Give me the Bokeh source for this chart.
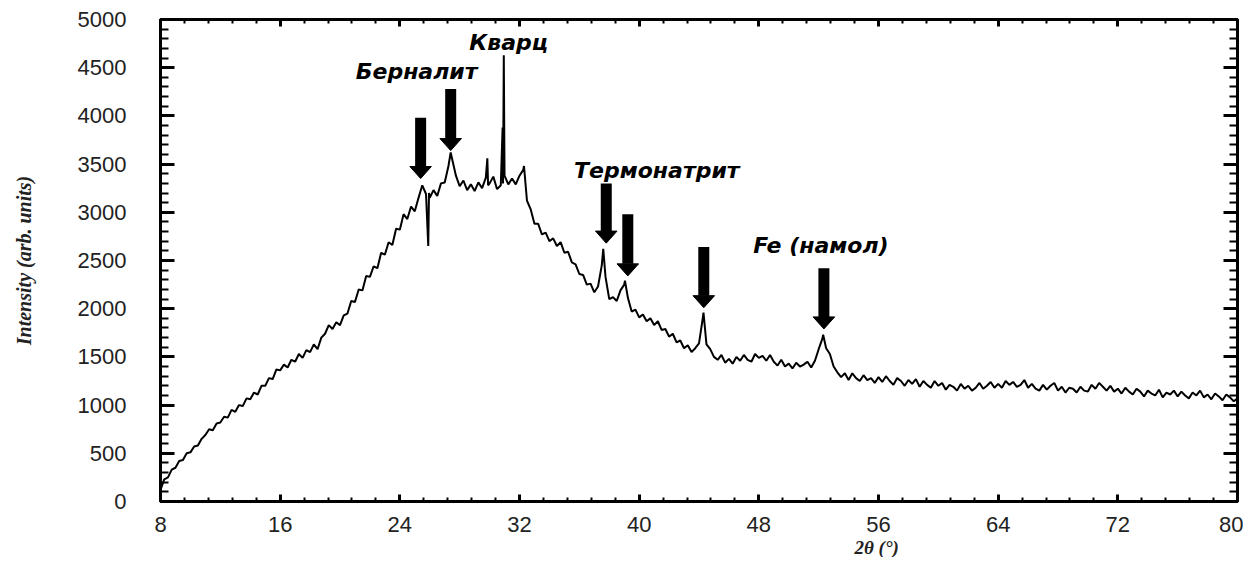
import numpy as np
from bokeh.plotting import figure
from bokeh.models import (LinearAxis, SingleIntervalTicker, Range1d, ColumnDataSource,
                          Title, CustomJSTickFormatter)
from bokeh.embed import file_html
from bokeh.resources import INLINE
from bokeh.core.properties import value

# ---------------- data ----------------
# sampling grid 8..80 deg, step 0.25
base_theta = np.arange(8.0, 80.001, 0.25)
base_intensity = [
    120, 230, 250, 330,      # 8
    350, 420, 430, 500,      # 9
    510, 570, 580, 650,      # 10
    690, 750, 740, 810,      # 11
    820, 880, 870, 950,      # 12
    930, 1000, 990, 1070,    # 13
    1060, 1130, 1110, 1200,  # 14
    1200, 1280, 1270, 1370,  # 15
    1360, 1420, 1390, 1470,  # 16
    1450, 1530, 1490, 1570,  # 17
    1550, 1630, 1580, 1700,  # 18
    1740, 1830, 1790, 1860,  # 19
    1830, 1930, 1950, 2080,  # 20
    2070, 2200, 2190, 2340,  # 21
    2330, 2440, 2420, 2580,  # 22
    2560, 2690, 2660, 2830,  # 23
    2820, 2980, 2930, 3060,  # 24
    3010, 3150, 3280, 3190,  # 25
    3150, 3230, 3170, 3300,  # 26
    3310, 3480, 3550, 3380,  # 27
    3270, 3330, 3230, 3290,  # 28
    3220, 3310, 3250, 3360,  # 29
    3300, 3370, 3240, 3280,  # 30
    3380, 3290, 3350, 3290,  # 31
    3380, 3440, 3120, 3030,  # 32
    2880, 2880, 2770, 2790,  # 33
    2700, 2730, 2650, 2690,  # 34
    2580, 2590, 2480, 2460,  # 35
    2360, 2350, 2250, 2260,  # 36
    2170, 2230, 2450, 2330,  # 37
    2100, 2120, 2080, 2190,  # 38
    2250, 2110, 1970, 1990,  # 39
    1910, 1940, 1870, 1900,  # 40
    1830, 1870, 1780, 1790,  # 41
    1710, 1740, 1650, 1670,  # 42
    1590, 1620, 1550, 1590,  # 43
    1640, 1900, 1630, 1580,  # 44
    1500, 1470, 1520, 1440,  # 45
    1480, 1430, 1500, 1460,  # 46
    1520, 1470, 1450, 1530,  # 47
    1490, 1510, 1460, 1520,  # 48
    1450, 1410, 1470, 1400,  # 49
    1430, 1380, 1440, 1400,  # 50
    1420, 1450, 1390, 1460,  # 51
    1580, 1690, 1590, 1530,  # 52
    1400, 1340, 1290, 1330,  # 53
    1260, 1330, 1280, 1250,  # 54
    1310, 1260, 1280, 1230,  # 55
    1290, 1240, 1300, 1250,  # 56
    1210, 1280, 1250, 1200,  # 57
    1260, 1220, 1270, 1190,  # 58
    1250, 1210, 1180, 1250,  # 59
    1200, 1230, 1160, 1210,  # 60
    1190, 1150, 1220, 1170,  # 61
    1200, 1150, 1180, 1230,  # 62
    1170, 1200, 1240, 1180,  # 63
    1220, 1180, 1250, 1210,  # 64
    1240, 1190, 1210, 1260,  # 65
    1180, 1220, 1170, 1150,  # 66
    1210, 1160, 1200, 1230,  # 67
    1150, 1190, 1130, 1180,  # 68
    1170, 1130, 1190, 1150,  # 69
    1140, 1210, 1170, 1230,  # 70
    1190, 1150, 1200, 1140,  # 71
    1170, 1120, 1180, 1140,  # 72
    1110, 1170, 1140, 1090,  # 73
    1150, 1120, 1100, 1160,  # 74
    1080, 1130, 1110, 1150,  # 75
    1090, 1140, 1100, 1070,  # 76
    1130, 1100, 1150, 1080,  # 77
    1110, 1060, 1120, 1090,  # 78
    1050, 1110, 1080, 1040,  # 79
    1070,                    # 80
]
# sharp peaks / spikes between grid points
spike_theta = [25.9, 25.95, 27.4, 29.85, 29.9, 30.87, 30.9, 30.95, 32.3, 37.6, 39.05, 44.3, 52.3]
spike_intensity = [2650, 3200, 3620, 3560, 3280, 3880, 3300, 4630, 3480, 2620, 2290, 1960, 1730]

# phase annotations
label_text = ["Берналит", "Кварц", "Термонатрит", "Fe (намол)"]
label_theta = [25.12, 31.28, 41.18, 52.15]
label_y = [4460, 4760, 3432, 2655]

# arrows (x position, top of shaft, tip)
arrow_theta = [25.39, 27.40, 37.80, 39.24, 44.32, 52.35]
arrow_top = [3980, 4280, 3300, 2980, 2640, 2420]
arrow_tip = [3350, 3640, 2680, 2340, 2010, 1790]

x_ticks_step = 8
y_ticks_step = 500
x_label = "2θ (°)"
y_label = "Intensity (arb. units)"

# ---------------- figure ----------------
theta = np.concatenate([base_theta, spike_theta])
inten = np.concatenate([np.array(base_intensity, float), spike_intensity])
order = np.argsort(theta, kind="stable")
src = ColumnDataSource(dict(x=theta[order], y=inten[order]))

p = figure(frame_width=1077, frame_height=482,
           x_range=Range1d(8, 80), y_range=Range1d(0, 5000),
           x_axis_type=None, y_axis_type=None,
           output_backend="svg", toolbar_location=None,
           min_border_left=160, min_border_right=6,
           min_border_top=19, min_border_bottom=20)
p.xgrid.visible = False
p.ygrid.visible = False
p.outline_line_color = "black"
p.outline_line_width = 3
p.background_fill_color = "white"
p.border_fill_color = "white"


def make_axis(kind, labels):
    if kind == "x":
        ax = LinearAxis(ticker=SingleIntervalTicker(interval=x_ticks_step, num_minor_ticks=5))
        ax.major_tick_in = 7
        ax.minor_tick_in = 4
        ax.major_label_standoff = 15
    else:
        ax = LinearAxis(ticker=SingleIntervalTicker(interval=y_ticks_step, num_minor_ticks=5))
        ax.major_tick_in = 14
        ax.minor_tick_in = 8
        ax.major_label_standoff = 34
    ax.major_tick_out = 0
    ax.minor_tick_out = 0
    ax.axis_line_width = 3
    ax.axis_line_color = "black"
    ax.major_tick_line_width = 3
    ax.minor_tick_line_width = 2
    ax.major_tick_line_color = "black"
    ax.minor_tick_line_color = "black"
    if labels:
        ax.major_label_text_font = "Liberation Sans"
        ax.major_label_text_font_size = "22px"
        ax.major_label_text_color = "#222222"
    else:
        ax.formatter = CustomJSTickFormatter(code="return ''")
        ax.major_label_standoff = 0
    return ax


xb = make_axis("x", True)
yl = make_axis("y", True)
yl.axis_label = y_label
yl.axis_label_text_font = "Liberation Serif"
yl.axis_label_text_font_style = "bold italic"
yl.axis_label_text_font_size = "20px"
yl.axis_label_text_color = "#222222"
yl.axis_label_standoff = 40
p.add_layout(xb, "below")
p.add_layout(yl, "left")
p.add_layout(make_axis("x", False), "above")
p.add_layout(make_axis("y", False), "right")

# x axis title (placed off-centre as in the original)
p.add_layout(Title(text=x_label, align="left", offset=694, standoff=0,
                   text_font="Liberation Serif", text_font_style="bold italic",
                   text_font_size="19px", text_color="#222222"), "below")

# diffraction pattern
p.line("x", "y", source=src, line_color="black", line_width=2)

# arrows: shaft + head
head_half_w = 0.72
head_len = 125
p.segment(x0=arrow_theta, y0=arrow_top, x1=arrow_theta,
          y1=[t + head_len for t in arrow_tip],
          line_color="black", line_width=11, line_cap="butt")
p.patches(xs=[[a - head_half_w, a + head_half_w, a] for a in arrow_theta],
          ys=[[t + head_len, t + head_len, t] for t in arrow_tip],
          fill_color="black", line_color="black", line_width=1)

# phase labels
p.text(x=label_theta, y=label_y, text=label_text,
       text_font=value("DejaVu Sans"), text_font_style="bold italic",
       text_font_size="22px", text_color="black",
       text_align="center", text_baseline="middle")

open("out.html", "w").write(file_html(p, INLINE))
